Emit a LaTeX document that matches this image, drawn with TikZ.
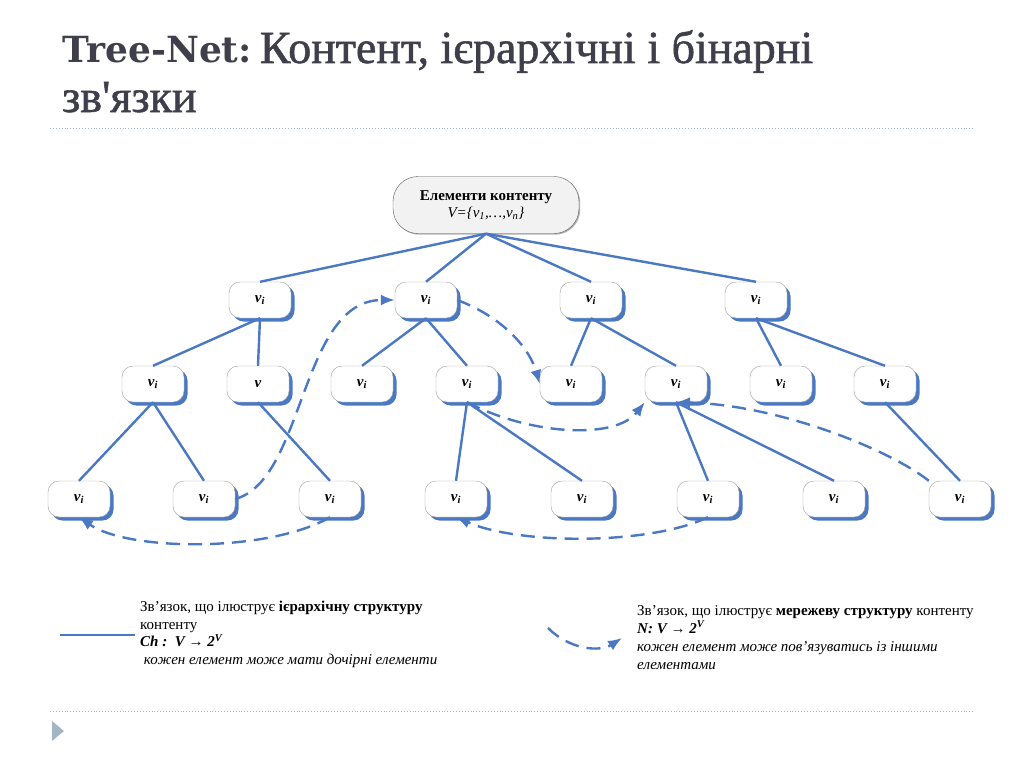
\documentclass[tikz,border=0pt]{standalone}
\usepackage{fontspec}
\setmainfont{Liberation Serif}
\newfontfamily\slabfont{DejaVu Serif}
\newfontfamily\headfont[FakeBold=1.2]{Liberation Serif}
\usetikzlibrary{arrows.meta,shadows}
\definecolor{linkblue}{HTML}{4A78C2}
\definecolor{titlegray}{HTML}{3F3F4B}
\definecolor{rulegray}{HTML}{A3B5C7}
\newcommand\vi{v\textsubscript{i}}
\tikzset{
  elem/.style={draw=gray!75, fill=white, rounded corners=11pt, minimum width=62pt, minimum height=36pt,
    font=\fontsize{15}{15}\selectfont\bfseries\itshape,
    drop shadow={shadow xshift=3.5pt, shadow yshift=-3.5pt, fill=linkblue, opacity=1}},
  rootbox/.style={draw=gray!70!black, fill=gray!10, rounded corners=25pt, minimum width=186pt, minimum height=57pt,
    align=center, font=\fontsize{15}{17}\selectfont,
    drop shadow={shadow xshift=1.2pt, shadow yshift=-1.2pt, fill=gray!60, opacity=1}},
  tree/.style={linkblue, line width=2.4pt},
  net/.style={linkblue, line width=2.4pt, dash pattern=on 14pt off 8pt, -{Latex[length=14pt,width=11pt]}},
  legend/.style={anchor=north west, inner sep=0pt, align=left},
}
\begin{document}
\begin{tikzpicture}[x=1pt,y=-1pt]
\useasboundingbox (0,0) rectangle (1024,768);
% title
\node[anchor=base west, inner sep=0pt, text=titlegray, font=\fontsize{46}{46}\headfont] (title) at (62,63)
  {{\slabfont\bfseries\fontsize{36}{36}\selectfont Tree-Net:}\hspace{8pt}Контент, ієрархічні і бінарні};
\node[anchor=base west, inner sep=0pt, text=titlegray, font=\fontsize{46}{46}\headfont] (title2) at (62,112) {зв\textquotesingle язки};
\draw[rulegray, dotted, line width=0.9pt] (50,128) -- (975,128);
\draw[rulegray, dotted, line width=0.9pt] (50,711) -- (975,711);
\fill[rulegray] (52,721) -- (64,731) -- (52,741) -- cycle;

% nodes
\node[rootbox] (cont) at (486,205) {\textbf{Елементи контенту}\\ \textit{V=\{v\textsubscript{1},…,v\textsubscript{n}\}}};
\foreach \n/\x in {a1/260,a2/426,a3/591,a4/756}
  \node[elem] (\n) at (\x,300) {\vi};
\foreach \n/\x/\t in {b1/153/\vi,b2/258/v,b3/362/\vi,b4/467/\vi,b5/571/\vi,b6/676/\vi,b7/781/\vi,b8/885/\vi}
  \node[elem] (\n) at (\x,384) {\t};
\foreach \n/\x in {c1/79,c2/204,c3/330,c4/456,c5/582,c6/708,c7/834,c8/960}
  \node[elem] (\n) at (\x,499) {\vi};

% hierarchy
\foreach \p/\c in {cont/a1,cont/a2,cont/a3,cont/a4,a1/b1,a1/b2,a2/b3,a2/b4,a3/b5,a3/b6,a4/b7,a4/b8,
    b1/c1,b1/c2,b2/c3,b4/c4,b4/c5,b6/c6,b6/c7,b8/c8}
  \draw[tree] (\p.south) -- (\c.north);

% net links
\draw[net] (c2.east) .. controls (305,480) and (300,300) .. (a2.west);
\draw[net] (a2.east) .. controls (505,318) and (530,350) .. (b5.west);
\draw[net] (c3.south) .. controls (270,552) and (130,552) .. (c1.south);
\draw[net] (b4.south) .. controls (530,435) and (615,440) .. (b6.south west);
\draw[net] (c8.north west) .. controls (890,450) and (780,405) .. (b6.south);
\draw[net] (c6.south) .. controls (650,545) and (520,545) .. (c4.south);

% legend
\coordinate (h0) at (60,635);
\coordinate (h1) at (135,635);
\draw[tree] (h0) -- (h1);
\node[legend, font=\fontsize{15}{17.5}\selectfont] (hlab) at (140,601)
  {Зв’язок, що ілюструє \textbf{ієрархічну структуру}\\ контенту\\
   \textbf{\textit{Ch :}}\ \ \textbf{\textit{V → 2\textsuperscript{V}}}\\
   \textit{ кожен елемент може мати дочірні елементи}};
\coordinate (n0) at (548,628);
\coordinate (n1) at (622,638);
\draw[net] (n0) .. controls (570,650) and (600,652) .. (n1);
\node[legend, font=\fontsize{15}{18}\selectfont] (nlab) at (637,605)
  {Зв’язок, що ілюструє \textbf{мережеву структуру} контенту\\
   \textbf{\textit{N: V → 2\textsuperscript{V}}}\\
   \textit{кожен елемент може пов’язуватись із іншими}\\
   \textit{елементами}};
\end{tikzpicture}
\end{document}
